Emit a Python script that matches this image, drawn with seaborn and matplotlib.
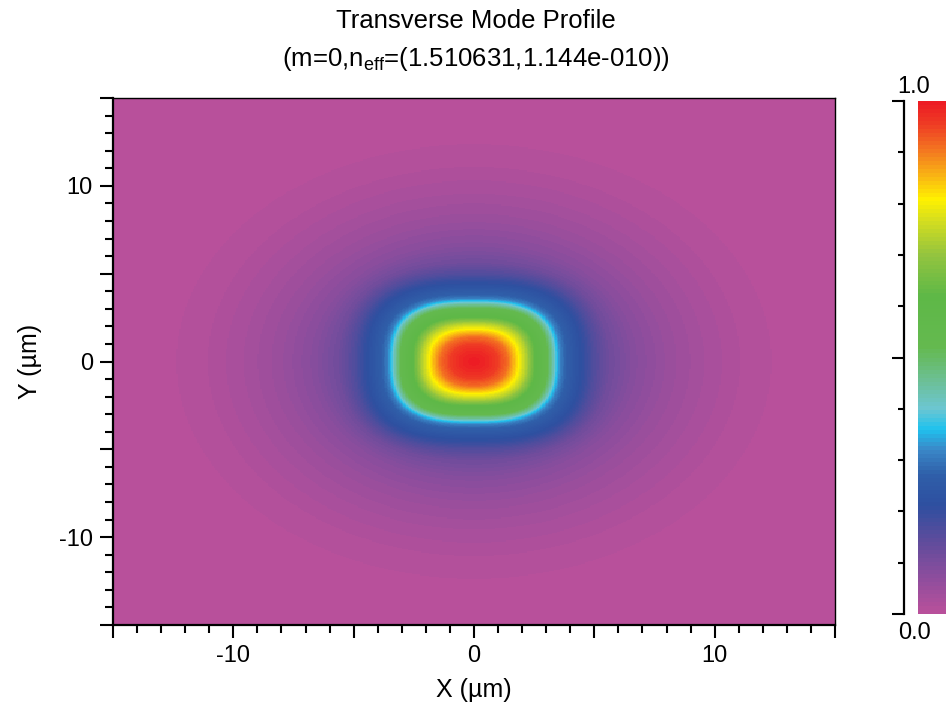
import numpy as np
import pandas as pd
import matplotlib
matplotlib.use("Agg")
import matplotlib.pyplot as plt
from matplotlib.colors import LinearSegmentedColormap
from matplotlib.ticker import FixedLocator, NullFormatter
import seaborn as sns

# Normalised intensity along a principal axis vs. distance from core centre (µm)
profile_r = [0.0, 0.6, 1.0, 1.4, 1.8, 2.2, 2.5, 3.0, 3.25, 3.45, 3.6, 3.8,
             4.2, 4.6, 5.0, 5.6, 6.7, 8.1, 9.5, 11.0, 12.5, 15.0, 22.0]
profile_I = [1.0, 0.98, 0.955, 0.91, 0.82, 0.72, 0.63, 0.54, 0.45, 0.36, 0.31, 0.275,
             0.235, 0.20, 0.16, 0.118, 0.08, 0.051, 0.032, 0.016, 0.007, 0.0, 0.0]

# Core geometry (half width in µm) and squareness of the guided region
core_half = 3.45
core_squareness = 2.8

# Window and ticks
x_range = (-15.0, 15.0)
y_range = (-15.0, 15.0)
major_ticks = [-15, -10, -5, 0, 5, 10, 15]
labelled_ticks = [-10, 0, 10]
minor_ticks = list(range(-15, 16))

# Colour scale stops
cmap_stops = [0.00, 0.07, 0.14, 0.21, 0.27, 0.32, 0.36, 0.40, 0.46, 0.52,
              0.62, 0.70, 0.77, 0.81, 0.86, 0.91, 0.96, 1.00]
cmap_colors = ["#b8509b", "#8c4d9d", "#5e4c9c", "#2e4fa0", "#2f5fa9", "#3a88c8",
               "#1fc2ee", "#6cc6d2", "#6cbf90", "#64b94f", "#5eb847", "#93c43f",
               "#d6de1e", "#fff100", "#f9b015", "#f37321", "#ee3a24", "#ed1c24"]

title_lines = ["Transverse Mode Profile",
               r"(m=0,n$_{\mathrm{eff}}$=(1.510631,1.144e-010))"]

sns.set_theme(style="ticks")
plt.rcParams["font.family"] = ["Liberation Sans", "DejaVu Sans"]
plt.rcParams["text.color"] = "black"
plt.rcParams["axes.labelcolor"] = "black"
plt.rcParams["mathtext.fontset"] = "custom"
plt.rcParams["mathtext.rm"] = "Liberation Sans"
plt.rcParams["mathtext.it"] = "Liberation Sans:italic"
plt.rcParams["mathtext.bf"] = "Liberation Sans:bold"

cmap = LinearSegmentedColormap.from_list("mode", list(zip(cmap_stops, cmap_colors)), N=128)

# Sample the mode field on a fine grid (cell centres)
nx, ny = 480, 480
dx = (x_range[1] - x_range[0]) / nx
dy = (y_range[1] - y_range[0]) / ny
xs = x_range[0] + dx * (np.arange(nx) + 0.5)
ys = y_range[1] - dy * (np.arange(ny) + 0.5)
X, Y = np.meshgrid(xs, ys)
r_round = np.hypot(X, Y)
r_square = (np.abs(X) ** core_squareness + np.abs(Y) ** core_squareness) ** (1.0 / core_squareness)
w = np.exp(-((r_square - core_half) / 2.2) ** 4)
r_eff = (1.0 - w) * r_round + w * r_square
field = pd.DataFrame(np.interp(r_eff, profile_r, profile_I), index=ys, columns=xs)

W, H = 947, 715
fig = plt.figure(figsize=(W / 100, H / 100), dpi=100)
ax = fig.add_axes([113 / W, 1 - 625 / H, 722 / W, 527 / H])
cax = fig.add_axes([918 / W, 1 - 614 / H, 28 / W, 513 / H])

sns.heatmap(field, ax=ax, cmap=cmap, vmin=0, vmax=1, cbar=True, cbar_ax=cax,
            xticklabels=False, yticklabels=False, rasterized=True)


def to_col(v):
    return (v - x_range[0]) / dx


def to_row(v):
    return (y_range[1] - v) / dy


for s in ax.spines.values():
    s.set_visible(True)
    s.set_color("black")
    s.set_linewidth(1.0)
ax.spines["left"].set_linewidth(1.6)
ax.spines["bottom"].set_linewidth(1.6)

ax.xaxis.set_major_locator(FixedLocator([to_col(v) for v in major_ticks]))
ax.set_xticklabels([f"{v}" if v in labelled_ticks else "" for v in major_ticks])
ax.xaxis.set_minor_locator(FixedLocator([to_col(v) for v in minor_ticks]))
ax.yaxis.set_major_locator(FixedLocator([to_row(v) for v in major_ticks]))
ax.set_yticklabels([f"{v}" if v in labelled_ticks else "" for v in major_ticks])
ax.yaxis.set_minor_locator(FixedLocator([to_row(v) for v in minor_ticks]))
ax.xaxis.set_minor_formatter(NullFormatter())
ax.yaxis.set_minor_formatter(NullFormatter())
ax.tick_params(which="major", direction="out", length=9.5, width=1.5, labelsize=17,
               colors="black", pad=5, bottom=True, left=True)
ax.tick_params(which="minor", direction="out", length=5.5, width=1.5, colors="black",
               bottom=True, left=True)
for lab in ax.get_yticklabels():
    lab.set_rotation(0)

ax.set_xlabel("X (µm)", fontsize=18, color="black", labelpad=8)
ax.set_ylabel("Y (µm)", fontsize=18, color="black", labelpad=12)

# Colour bar: plain gradient strip with a separate scale line on its left
cb = ax.collections[0].colorbar
cb.outline.set_visible(False)
cb.ax.tick_params(length=0, labelright=False, labelleft=False)

sax = fig.add_axes([904 / W, 1 - 614 / H, 0.0001, 513 / H])
sax.set_facecolor("none")
sax.set_ylim(0, 1)
sax.set_xticks([])
for name in ["top", "right", "bottom"]:
    sax.spines[name].set_visible(False)
sax.spines["left"].set_linewidth(1.6)
sax.spines["left"].set_color("black")
sax.yaxis.set_major_locator(FixedLocator([0.0, 0.5, 1.0]))
sax.yaxis.set_minor_locator(FixedLocator([i / 10 for i in range(11)]))
sax.yaxis.set_major_formatter(NullFormatter())
sax.yaxis.set_minor_formatter(NullFormatter())
sax.tick_params(which="major", direction="out", length=8.5, width=1.5, colors="black", left=True)
sax.tick_params(which="minor", direction="out", length=4.5, width=1.5, colors="black", left=True)

fig.text(914 / W, 1 - 87 / H, "1.0", ha="center", va="center", fontsize=17)
fig.text(914 / W, 1 - 633 / H, "0.0", ha="center", va="center", fontsize=17)

fig.text(476 / W, 1 - 21 / H, title_lines[0], ha="center", va="center", fontsize=18.5)
fig.text(476 / W, 1 - 59 / H, title_lines[1], ha="center", va="center", fontsize=18.5)

fig.savefig("out.png", dpi=100)
